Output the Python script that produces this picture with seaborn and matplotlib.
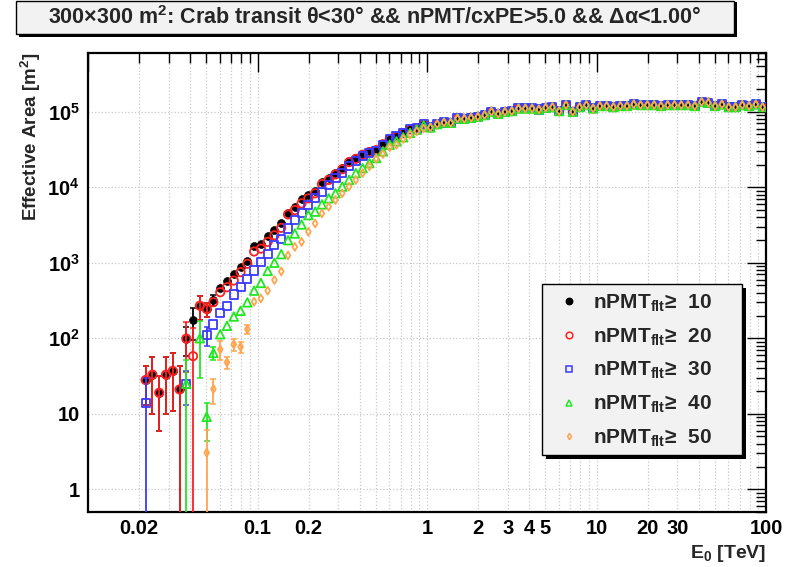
import numpy as np
import pandas as pd
import matplotlib
matplotlib.use("Agg")
import matplotlib.pyplot as plt
from matplotlib.patches import Rectangle
from matplotlib.lines import Line2D
from matplotlib.ticker import LogLocator, FixedLocator, FuncFormatter, NullFormatter
import seaborn as sns

# histogram binning: 25 log bins per decade from 0.01 to 100 TeV
bin_edges = np.logspace(-2, 2, 101)
e_center = np.sqrt(bin_edges[:-1] * bin_edges[1:])
first_bin = 8

nan = np.nan
# effective area [m^2], bins 8..49 (threshold / rising part)
area_10 = [28, 33, 19, 33, 37, 21, 99, 174, 270, 244,
           320, 465, 565, 713, 875, 1070, 1650, 1790, 2240, 2700,
           3380, 4600, 5520, 6920, 7890, 9040, 11900, 13200, 15400, 17900,
           22400, 24400, 27500, 29900, 31400, 37800, 44000, 47400, 52500, 58700,
           60000, 68500]
area_20 = [28, 33, 19, 33, 37, 21, 99, 58, 270, 244,
           300, 407, 474, 581, 751, 970, 1410, 1540, 1890, 2310,
           2900, 4370, 4990, 6120, 7130, 8320, 11000, 12500, 14800, 17300,
           21500, 23800, 27000, 29300, 31000, 37200, 43500, 47000, 52000, 58500,
           60000, 68500]
area_30 = [14, nan, nan, nan, nan, nan, 25, nan, nan, 109,
           152, 215, 270, 380, 474, 610, 790, 1020, 1320, 1700,
           2090, 2840, 3660, 4500, 5810, 7130, 8750, 10700, 13200, 15400,
           18900, 22000, 25600, 28400, 30500, 36600, 43500, 47000, 52000, 58500,
           60000, 68500]
area_40 = [nan, nan, nan, nan, nan, nan, 25, nan, 100, 9.1,
           64, 113, 146, 194, 231, 299, 427, 540, 780, 1000,
           1300, 1990, 2440, 3210, 4280, 4750, 5930, 7130, 8320, 10200,
           12500, 15400, 17900, 20900, 24400, 29900, 36600, 40600, 45900, 52500,
           58000, 66000]
area_50 = [nan, nan, nan, nan, nan, nan, nan, nan, nan, 3.05,
           21.3, 71, 48, 83, 77, 132, 305, 337, 427, 590,
           767, 1250, 1620, 1890, 2570, 3310, 4500, 5520, 6780, 8320,
           10200, 12500, 15400, 18900, 23900, 27500, 33800, 36600, 43700, 49900,
           55200, 59900]
# bins 50..99: all cuts agree on the plateau
plateau = [62000, 68500, 72000, 71300, 81400, 80700, 83200, 85800, 90300, 100000,
           94000, 100000, 102000, 110600, 110600, 110600, 107000, 113000, 115300, 102000,
           122700, 100000, 115300, 122700, 110600, 119200, 119200, 115300, 119200, 119200,
           125300, 122700, 122700, 122700, 119200, 122700, 122700, 122700, 122700, 119200,
           134700, 131800, 119200, 125300, 115300, 115300, 122700, 119200, 125300, 115300]

# statistical errors for bins 8..24 (later ones hide under the markers)
err_10 = [15, 23, 13, 23, 26, 22, 40, 80, 95, 50, 50, 0, 0, 0, 0, 0, 0]
err_20 = [15, 23, 13, 23, 26, 22, 63, 80, 95, 50, 0, 0, 0, 0, 0, 0, 0]
err_30 = [16, 0, 0, 0, 0, 0, 12, 0, 0, 30, 0, 0, 0, 0, 0, 0, 0]
err_40 = [0, 0, 0, 0, 0, 0, 27, 0, 70, 4.7, 12, 0, 0, 0, 0, 0, 0]
err_50 = [0, 0, 0, 0, 0, 0, 0, 0, 0, 3.1, 8, 20, 9, 15, 13, 18, 0]

cuts = [10, 20, 30, 40, 50]
lows = [area_10, area_20, area_30, area_40, area_50]
errs = [err_10, err_20, err_30, err_40, err_50]
colors = ['black', '#ff2020', '#3a3aff', '#22e622', '#ffa550']
markers = ['o', 'o', 's', '^', 'd']
sizes = [32, 36, 34, 38, 16]
filled = [True, False, False, False, False]

sns.set_style("white")
plt.rcParams['font.family'] = ['Liberation Sans', 'DejaVu Sans']
plt.rcParams['font.weight'] = 'bold'
plt.rcParams['axes.labelweight'] = 'bold'
plt.rcParams['mathtext.fontset'] = 'custom'
plt.rcParams['mathtext.rm'] = 'Liberation Sans:bold'
plt.rcParams['mathtext.it'] = 'Liberation Sans:bold'
plt.rcParams['mathtext.bf'] = 'Liberation Sans:bold'

fig = plt.figure(figsize=(7.94, 5.67), dpi=100)
ax = fig.add_axes([88 / 794, 55 / 567, 678 / 794, 459 / 567])

x = e_center[first_bin:]
for k, cut in enumerate(cuts):
    y = np.array(lows[k] + plateau, dtype=float)
    e = np.array(errs[k] + [0] * (len(y) - len(errs[k])), dtype=float)
    df = pd.DataFrame({'E': x, 'A': y, 'err': e}).dropna()
    show = df[df['err'] > 0]
    ax.errorbar(show['E'], show['A'], yerr=show['err'], fmt='none',
                ecolor=colors[k], elinewidth=1.3, capsize=2.0, capthick=1.1,
                zorder=2 + 2 * k)
    if filled[k]:
        sns.scatterplot(data=df, x='E', y='A', ax=ax, marker=markers[k], s=sizes[k],
                        color=colors[k], edgecolor=colors[k], linewidth=0.5,
                        zorder=3 + 2 * k)
    else:
        sns.scatterplot(data=df, x='E', y='A', ax=ax, marker=markers[k], s=sizes[k],
                        color=colors[k], facecolor='none', edgecolor=colors[k],
                        linewidth=1.3, zorder=3 + 2 * k)

ax.set_xscale('log')
ax.set_yscale('log')
ax.set_xlim(0.01, 100)
ax.set_ylim(0.5, 6e5)

ax.xaxis.set_major_locator(FixedLocator([0.01, 0.1, 1, 10, 100]))
ax.xaxis.set_minor_locator(LogLocator(base=10, subs=np.arange(2, 10), numticks=20))
ax.yaxis.set_major_locator(FixedLocator([1, 10, 1e2, 1e3, 1e4, 1e5]))
ax.yaxis.set_minor_locator(LogLocator(base=10, subs=np.arange(2, 10), numticks=20))

x_major_labels = {0.1: '0.1', 1: '1', 10: '10', 100: '100'}
x_minor_labels = {0.02: '0.02', 0.2: '0.2', 2: '2', 3: '3', 4: '4', 5: '5', 20: '20', 30: '30'}


def lab(d):
    def f(v, pos):
        for key, s in d.items():
            if abs(v / key - 1) < 1e-6:
                return s
        return ''
    return f


def ylab(v, pos):
    p = int(round(np.log10(v)))
    if p == 0:
        return '1'
    if p == 1:
        return '10'
    return '$10^{%d}$' % p


ax.xaxis.set_major_formatter(FuncFormatter(lab(x_major_labels)))
ax.xaxis.set_minor_formatter(FuncFormatter(lab(x_minor_labels)))
ax.yaxis.set_major_formatter(FuncFormatter(ylab))
ax.yaxis.set_minor_formatter(NullFormatter())

ax.tick_params(which='both', direction='in', top=True, right=True, width=1.0,
               labelsize=14.5, colors='black')
ax.tick_params(which='major', length=14)
ax.tick_params(which='minor', length=7)
ax.tick_params(axis='x', which='both', pad=5)
ax.tick_params(axis='y', which='both', pad=6)
for sp in ax.spines.values():
    sp.set_linewidth(1.6)
    sp.set_color('black')

ax.grid(True, axis='x', which='both', ls=':', color='#c8c8c8', lw=0.9)
ax.grid(True, axis='y', which='major', ls=':', color='#c8c8c8', lw=0.9)
ax.set_axisbelow(True)

ax.set_xlabel('E$_{0}$ [TeV]', fontsize=14, fontweight='bold', loc='right')
ax.xaxis.set_label_coords(1.0, -0.068)
ax.set_ylabel('Effective Area [m$^{2}$]', fontsize=13.5, fontweight='bold', loc='top')
ax.yaxis.set_label_coords(-0.067, 1.0)

# legend pave (box + shadow drawn by hand, entries by matplotlib)
leg_x0, leg_y0, leg_w, leg_h = 542, 284, 200, 171
ax.add_patch(Rectangle(((leg_x0 + 4) / 794, 1 - (leg_y0 + leg_h + 4) / 567),
                       leg_w / 794, leg_h / 567, transform=fig.transFigure,
                       facecolor='black', edgecolor='none', zorder=25, clip_on=False))
ax.add_patch(Rectangle((leg_x0 / 794, 1 - (leg_y0 + leg_h) / 567),
                       leg_w / 794, leg_h / 567, transform=fig.transFigure,
                       facecolor='#f2f2f2', edgecolor='black', linewidth=1.0,
                       zorder=26, clip_on=False))
handles = []
for k, cut in enumerate(cuts):
    handles.append(Line2D([], [], ls='none', marker=markers[k],
                          markersize=np.sqrt(sizes[k]) * 0.8,
                          color=colors[k],
                          markerfacecolor=colors[k] if filled[k] else 'none',
                          markeredgewidth=1.1,
                          label='nPMT$_{\\mathrm{flt}}$\u2265  %d' % cut))
leg = ax.legend(handles=handles, loc='upper left',
                bbox_to_anchor=(leg_x0 / 794, 1 - (leg_y0 - 2) / 567),
                bbox_transform=fig.transFigure, frameon=False, fontsize=15,
                labelspacing=0.6, handlelength=1.6, handletextpad=0.35,
                borderpad=0.5, borderaxespad=0)
leg.set_zorder(30)

# title pave with shadow
fig.patches.append(Rectangle((19 / 794, 1 - 37 / 567), 718 / 794, 35 / 567,
                             transform=fig.transFigure, facecolor='black',
                             edgecolor='none', zorder=1))
fig.patches.append(Rectangle((16 / 794, 1 - 34 / 567), 718 / 794, 33 / 567,
                             transform=fig.transFigure, facecolor='#f2f2f2',
                             edgecolor='black', linewidth=1.0, zorder=2))
fig.text(375 / 794, 1 - 18 / 567,
         '300\u00d7300 m$^{2}$: Crab transit \u03b8<30\u00b0 && nPMT/cxPE>5.0 && \u0394\u03b1<1.00\u00b0',
         ha='center', va='center', fontsize=15.5, zorder=3)

fig.savefig('out.png', dpi=100, facecolor='white')
